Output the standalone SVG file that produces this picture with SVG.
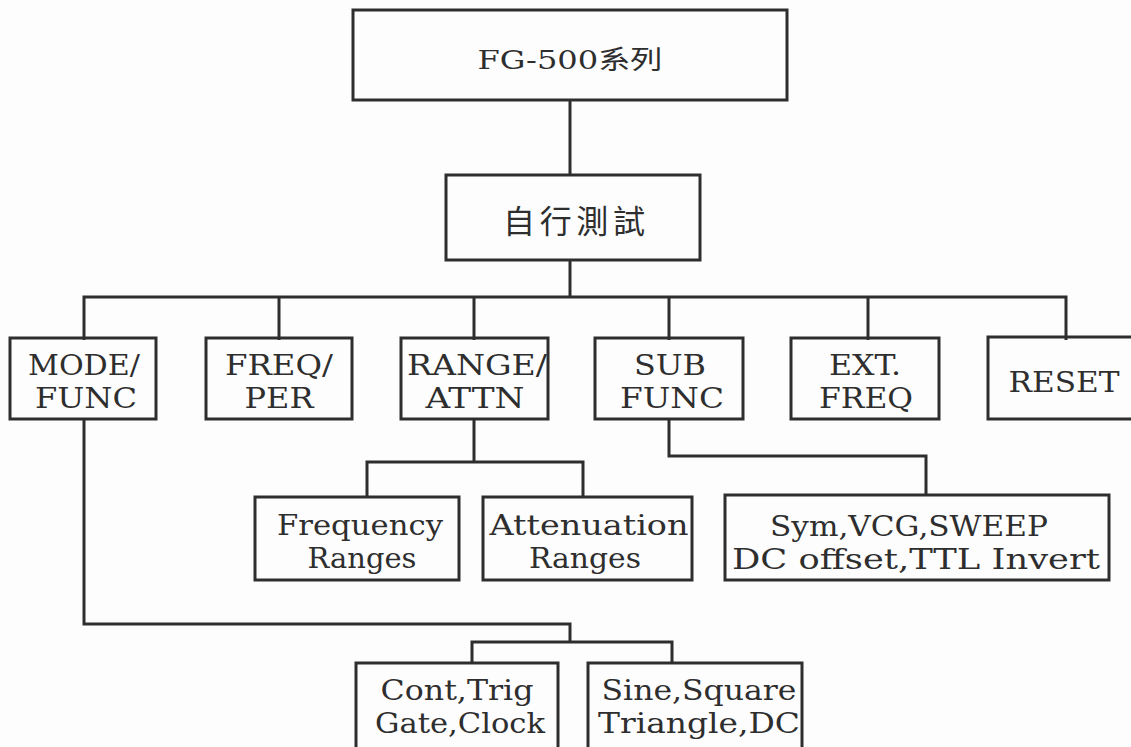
<svg xmlns="http://www.w3.org/2000/svg" width="1131" height="747" viewBox="0 0 1131 747">
<style>
.box{fill:none;stroke:#2e2e2e;stroke-width:3}
.ln{fill:none;stroke:#2e2e2e;stroke-width:3}
text{font-family:"DejaVu Serif","Liberation Serif",serif;fill:#2e2e2e;text-anchor:middle}
.t1{font-size:28px}
.t2{font-size:27px}
.cjk{font-family:"Noto Sans CJK TC","Noto Sans CJK SC",sans-serif;font-size:32px}
</style>
<rect width="1131" height="747" fill="#fdfdfd"/>
<g id="connectors">
<path class="ln" d="M570 100V175"/>
<path class="ln" d="M570 260V297"/>
<path class="ln" d="M84 340V297H1066V340"/>
<path class="ln" d="M279 297V340M474 297V340M669 297V340M868 297V340"/>
<path class="ln" d="M474 419V462M367 497V462H583V497"/>
<path class="ln" d="M669 419V456H926V495"/>
<path class="ln" d="M84 419V624H570V642M472 663V642H672V663"/>
</g>
<g id="n-root"><rect class="box" x="353" y="10" width="434" height="90"/>
<text x="570" y="69" font-size="26" textLength="185" lengthAdjust="spacingAndGlyphs">FG-500<tspan style="font-family:'Noto Sans CJK TC',sans-serif">系列</tspan></text></g>
<g id="n-selftest"><rect class="box" x="446" y="175" width="254" height="85"/>
<text class="cjk" x="574" y="233" textLength="142" lengthAdjust="spacing">自行測試</text></g>
<g id="n-mode"><rect class="box" x="10" y="338" width="146" height="81"/>
<text class="t1" x="84" y="375" textLength="112" lengthAdjust="spacingAndGlyphs">MODE/</text>
<text class="t1" x="86" y="408" textLength="102" lengthAdjust="spacingAndGlyphs">FUNC</text></g>
<g id="n-freq"><rect class="box" x="206" y="338" width="146" height="81"/>
<text class="t1" x="279" y="375" textLength="108" lengthAdjust="spacingAndGlyphs">FREQ/</text>
<text class="t1" x="279" y="408" textLength="69" lengthAdjust="spacingAndGlyphs">PER</text></g>
<g id="n-range"><rect class="box" x="401" y="338" width="147" height="81"/>
<text class="t1" x="477" y="375" textLength="140" lengthAdjust="spacingAndGlyphs">RANGE/</text>
<text class="t1" x="475" y="408" textLength="99" lengthAdjust="spacingAndGlyphs">ATTN</text></g>
<g id="n-sub"><rect class="box" x="595" y="338" width="148" height="81"/>
<text class="t1" x="670" y="375" textLength="72" lengthAdjust="spacingAndGlyphs">SUB</text>
<text class="t1" x="672" y="408" textLength="104" lengthAdjust="spacingAndGlyphs">FUNC</text></g>
<g id="n-ext"><rect class="box" x="791" y="338" width="148" height="81"/>
<text class="t1" x="865" y="375" textLength="72" lengthAdjust="spacingAndGlyphs">EXT.</text>
<text class="t1" x="866" y="408" textLength="94" lengthAdjust="spacingAndGlyphs">FREQ</text></g>
<g id="n-reset"><rect class="box" x="988" y="337" width="150" height="82"/>
<text class="t1" x="1064" y="392" textLength="111" lengthAdjust="spacingAndGlyphs">RESET</text></g>
<g id="n-freqranges"><rect class="box" x="255" y="497" width="204" height="83"/>
<text class="t2" x="360" y="535" textLength="166" lengthAdjust="spacingAndGlyphs">Frequency</text>
<text class="t2" x="362" y="568" textLength="109" lengthAdjust="spacingAndGlyphs">Ranges</text></g>
<g id="n-attranges"><rect class="box" x="483" y="497" width="209" height="83"/>
<text class="t2" x="589" y="535" textLength="199" lengthAdjust="spacingAndGlyphs">Attenuation</text>
<text class="t2" x="585" y="568" textLength="112" lengthAdjust="spacingAndGlyphs">Ranges</text></g>
<g id="n-subfunc"><rect class="box" x="725" y="495" width="384" height="85"/>
<text class="t2" x="909" y="536" textLength="278" lengthAdjust="spacingAndGlyphs">Sym,VCG,SWEEP</text>
<text class="t2" x="916" y="569" textLength="368" lengthAdjust="spacingAndGlyphs">DC offset,TTL Invert</text></g>
<g id="n-mode-sub"><rect class="box" x="356" y="663" width="202" height="100"/>
<text class="t2" x="457" y="700" textLength="153" lengthAdjust="spacingAndGlyphs">Cont,Trig</text>
<text class="t2" x="460" y="733" textLength="170" lengthAdjust="spacingAndGlyphs">Gate,Clock</text></g>
<g id="n-func-sub"><rect class="box" x="588" y="663" width="214" height="100"/>
<text class="t2" x="699" y="700" textLength="195" lengthAdjust="spacingAndGlyphs">Sine,Square</text>
<text class="t2" x="699" y="733" textLength="202" lengthAdjust="spacingAndGlyphs">Triangle,DC</text></g>
</svg>
